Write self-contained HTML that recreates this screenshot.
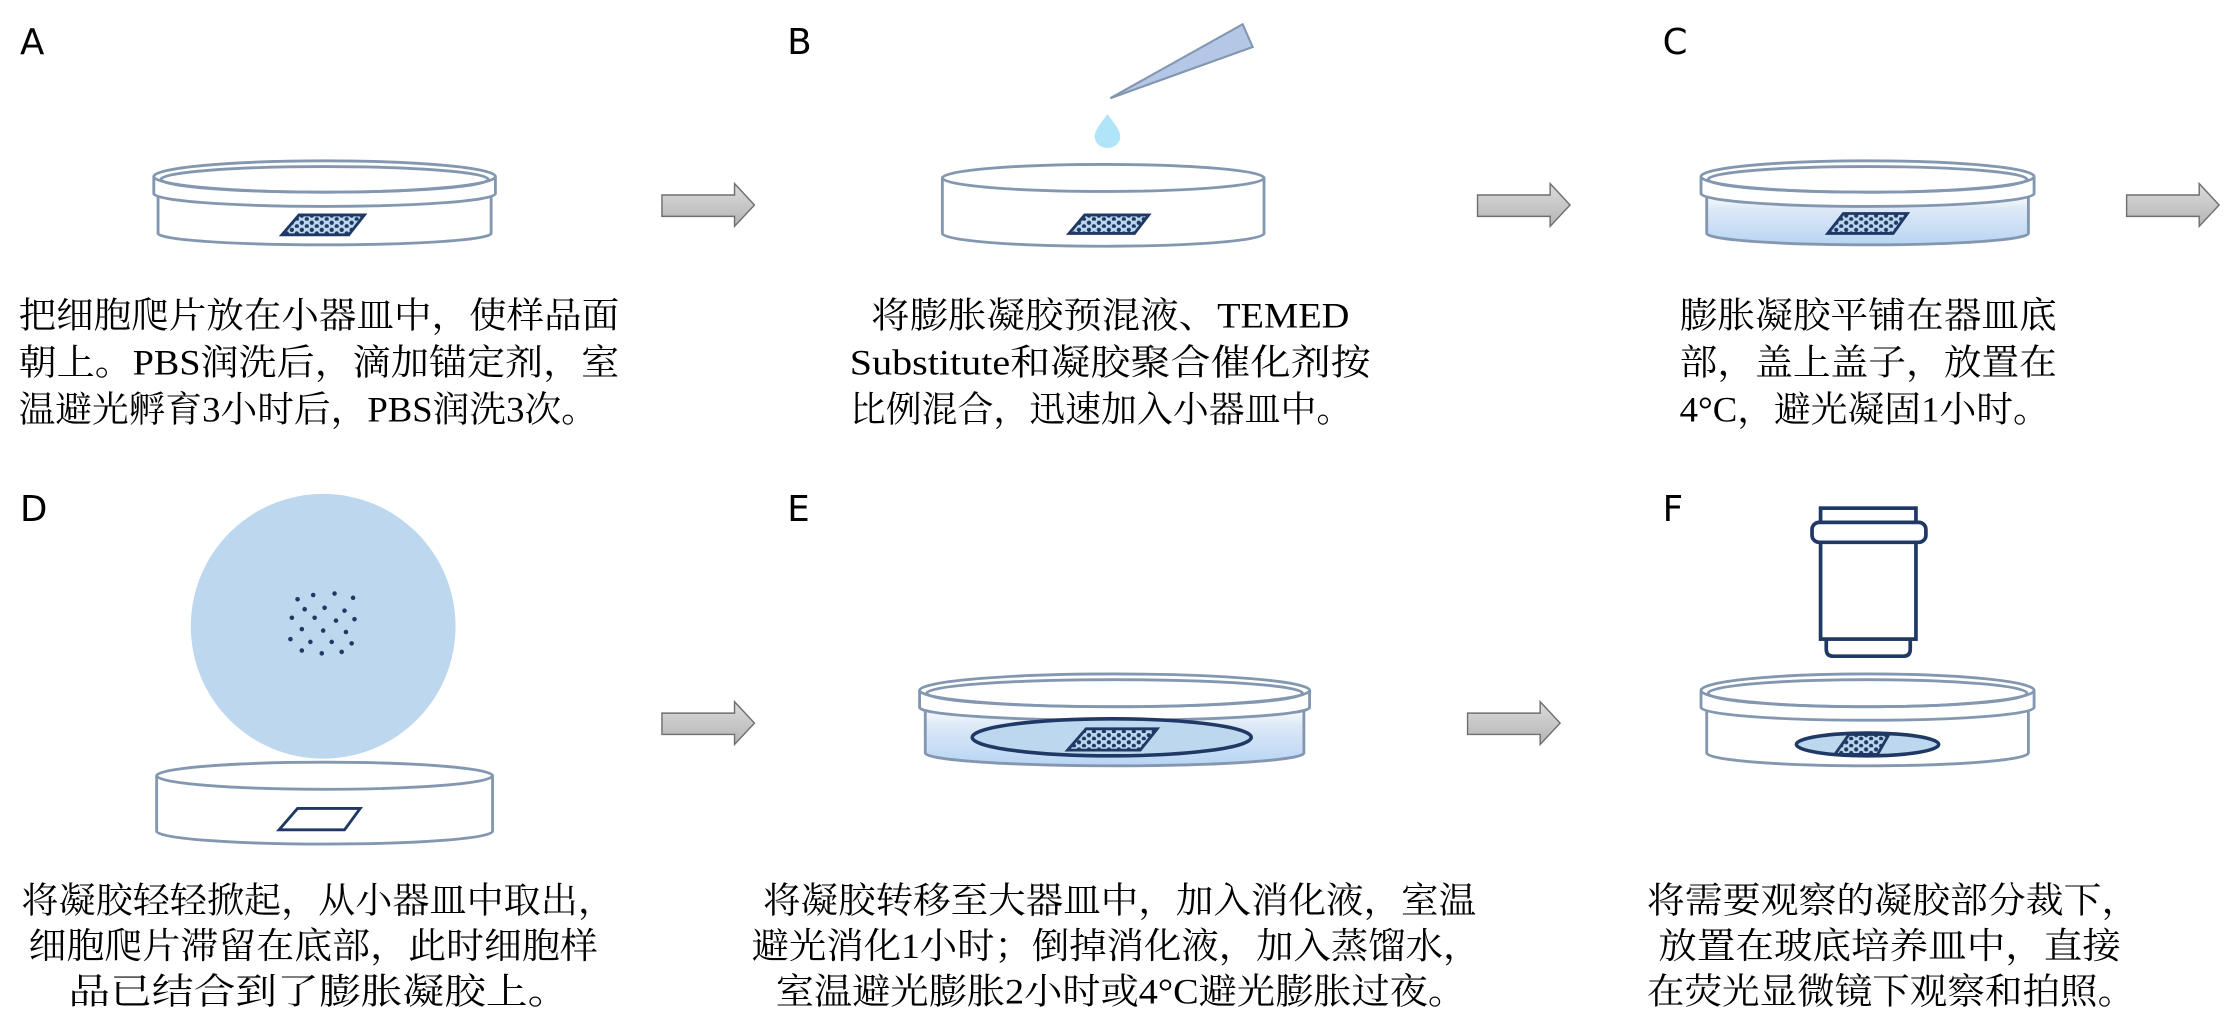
<!DOCTYPE html>
<html><head><meta charset="utf-8"><style>html,body{margin:0;padding:0;background:#fff}svg{display:block}</style></head>
<body>
<svg width="2232" height="1020" viewBox="0 0 1568 716.6" xmlns="http://www.w3.org/2000/svg">
<defs>
<pattern id="dots" width="7" height="5" patternUnits="userSpaceOnUse">
<rect width="7" height="5" fill="#bdd7ee"/><circle cx="2" cy="1.5" r="1.5" fill="#1f3864"/><circle cx="5.5" cy="4" r="1.5" fill="#1f3864"/></pattern>
<linearGradient id="blue" x1="0" y1="0" x2="0" y2="1"><stop offset="0" stop-color="#ffffff"/><stop offset="0.3" stop-color="#dde9f7"/><stop offset="1" stop-color="#b8d5f4"/></linearGradient>
<linearGradient id="arr" x1="0" y1="0" x2="0" y2="1"><stop offset="0" stop-color="#dcdcdc"/><stop offset="1" stop-color="#b4b4b4"/></linearGradient>
</defs>
<g font-family="DejaVu Sans, Liberation Sans, sans-serif" font-size="25" fill="#000">
<text x="14" y="38">A</text><text x="553" y="38">B</text><text x="1168" y="38">C</text>
<text x="14" y="366">D</text><text x="553" y="366">E</text><text x="1168" y="366">F</text>
</g>
<g fill="url(#arr)" stroke="#6f6f6f" stroke-width="1">
<polygon points="465,137 516,137 516,129 530,144 516,159 516,152 465,152"/>
<polygon points="1038,137 1089,137 1089,129 1103,144 1089,159 1089,152 1038,152"/>
<polygon points="1494,137 1545,137 1545,129 1559,144 1545,159 1545,152 1494,152"/>
<polygon points="465,501 516,501 516,493 530,508 516,523 516,516 465,516"/>
<polygon points="1031,501 1082,501 1082,493 1096,508 1082,523 1082,516 1031,516"/>
</g>
<path d="M1199,136 A113,9 0 0 0 1425,136 L1425,164 A113,8 0 0 1 1199,164 Z" fill="url(#blue)"/>
<path d="M650,497 A133,9 0 0 0 916,497 L916,529 A133,9 0 0 1 650,529 Z" fill="url(#blue)"/>
<g fill="none" stroke="#8497b0" stroke-width="2">
<path d="M111,138 L111,164 A117,8 0 0 0 345,164 L345,138"/>
<path d="M108,124 L108,136 A120,9 0 0 0 348,136 L348,124"/>
<ellipse cx="228" cy="124" rx="120" ry="11" fill="#fff"/>
<ellipse cx="228" cy="126" rx="115" ry="9"/>
<path d="M662,125 L662,164 A113,9 0 0 0 888,164 L888,125"/>
<ellipse cx="775" cy="125" rx="113" ry="9.5"/>
<path d="M1199,138 L1199,164 A113,8 0 0 0 1425,164 L1425,138"/>
<path d="M1195,124 L1195,136 A117,9 0 0 0 1429,136 L1429,124"/>
<ellipse cx="1312" cy="124" rx="117" ry="11" fill="#fff"/>
<ellipse cx="1312" cy="126" rx="112" ry="9"/>
<path d="M110,545 L110,584 A118,9 0 0 0 346,584 L346,545"/>
<ellipse cx="228" cy="545" rx="118" ry="9.5"/>
<path d="M650,499 L650,529 A133,9 0 0 0 916,529 L916,499"/>
<path d="M646,485 L646,497 A137,9 0 0 0 920,497 L920,485"/>
<ellipse cx="783" cy="485" rx="137" ry="11.5" fill="#fff"/>
<ellipse cx="783" cy="487" rx="132" ry="9.5"/>
<path d="M1199,499 L1199,529 A113,9 0 0 0 1425,529 L1425,499"/>
<path d="M1195,485 L1195,497 A117,9 0 0 0 1429,497 L1429,485"/>
<ellipse cx="1312" cy="485" rx="117" ry="11.5" fill="#fff"/>
<ellipse cx="1312" cy="487" rx="112" ry="9.5"/>
</g>
<polygon points="780,69 873,17 880,33" fill="#b4c7e7" stroke="#8497b0" stroke-width="1.5"/>
<path d="M778,80 C782,86 787,91 787,96 A9,8 0 0 1 769,96 C769,91 774,86 778,80 Z" fill="#b0e4f8"/>
<circle cx="227" cy="440" r="93" fill="#bdd7ee"/>
<g fill="#1f3864">
<circle cx="209" cy="421" r="1.6"/><circle cx="220" cy="418" r="1.6"/><circle cx="235" cy="417" r="1.6"/><circle cx="248" cy="420" r="1.6"/>
<circle cx="214" cy="428" r="1.6"/><circle cx="228" cy="427" r="1.6"/><circle cx="242" cy="429" r="1.6"/><circle cx="205" cy="434" r="1.6"/>
<circle cx="221" cy="434" r="1.6"/><circle cx="236" cy="436" r="1.6"/><circle cx="249" cy="435" r="1.6"/><circle cx="212" cy="442" r="1.6"/>
<circle cx="227" cy="443" r="1.6"/><circle cx="243" cy="444" r="1.6"/><circle cx="204" cy="449" r="1.6"/><circle cx="218" cy="451" r="1.6"/>
<circle cx="233" cy="451" r="1.6"/><circle cx="247" cy="452" r="1.6"/><circle cx="212" cy="457" r="1.6"/><circle cx="226" cy="459" r="1.6"/><circle cx="240" cy="458" r="1.6"/>
</g>
<g fill="url(#dots)" stroke="#1f3864" stroke-width="2">
<polygon points="210,151 256,151 245,165 198,165"/>
<polygon points="762,151 807,151 797,164 751,164"/>
<polygon points="1295,150 1340,150 1330,164 1284,164"/>
<polygon points="209,568 253,568 242,583 196,583" fill="#fff"/>
<ellipse cx="781" cy="518" rx="98" ry="13" fill="#bdd7ee" stroke-width="2.5"/>
<polygon points="763,512 813,512 801,527 750,527"/>
<ellipse cx="1312" cy="523" rx="50" ry="8" fill="#bdd7ee" stroke-width="2.5"/>
<polygon points="1299,516 1327,516 1319,530 1289,530"/>
</g>
<g fill="#fff" stroke="#1f3864" stroke-width="2.6">
<path d="M1283,449 L1283,456 Q1283,461 1288,461 L1337,461 Q1342,461 1342,456 L1342,449"/>
<rect x="1279" y="357" width="67" height="92"/>
<rect x="1273" y="367" width="80" height="14" rx="5"/>
</g>
<g font-family="Liberation Serif, 'Noto Serif CJK SC', serif" font-size="25" fill="#000">
<text x="13" y="230" textLength="422" lengthAdjust="spacingAndGlyphs">把细胞爬片放在小器皿中，使样品面</text>
<text x="13" y="263" textLength="422" lengthAdjust="spacingAndGlyphs">朝上。PBS润洗后，滴加锚定剂，室</text>
<text x="13" y="296" textLength="407" lengthAdjust="spacingAndGlyphs">温避光孵育3小时后，PBS润洗3次。</text>
<text x="612" y="230" textLength="336" lengthAdjust="spacingAndGlyphs">将膨胀凝胶预混液、TEMED</text>
<text x="597" y="263" textLength="366" lengthAdjust="spacingAndGlyphs">Substitute和凝胶聚合催化剂按</text>
<text x="597" y="296" textLength="353" lengthAdjust="spacingAndGlyphs">比例混合，迅速加入小器皿中。</text>
<text x="1180" y="230" textLength="265" lengthAdjust="spacingAndGlyphs">膨胀凝胶平铺在器皿底</text>
<text x="1180" y="263" textLength="265" lengthAdjust="spacingAndGlyphs">部，盖上盖子，放置在</text>
<text x="1180" y="296" textLength="260" lengthAdjust="spacingAndGlyphs">4°C，避光凝固1小时。</text>
<text x="15" y="641" textLength="417" lengthAdjust="spacingAndGlyphs">将凝胶轻轻掀起，从小器皿中取出，</text>
<text x="20" y="673" textLength="400" lengthAdjust="spacingAndGlyphs">细胞爬片滞留在底部，此时细胞样</text>
<text x="48" y="705" textLength="352" lengthAdjust="spacingAndGlyphs">品已结合到了膨胀凝胶上。</text>
<text x="536" y="641" textLength="501" lengthAdjust="spacingAndGlyphs">将凝胶转移至大器皿中，加入消化液，室温</text>
<text x="528" y="673" textLength="512" lengthAdjust="spacingAndGlyphs">避光消化1小时；倒掉消化液，加入蒸馏水，</text>
<text x="545" y="705" textLength="485" lengthAdjust="spacingAndGlyphs">室温避光膨胀2小时或4°C避光膨胀过夜。</text>
<text x="1157" y="641" textLength="346" lengthAdjust="spacingAndGlyphs">将需要观察的凝胶部分裁下，</text>
<text x="1165" y="673" textLength="325" lengthAdjust="spacingAndGlyphs">放置在玻底培养皿中，直接</text>
<text x="1157" y="705" textLength="343" lengthAdjust="spacingAndGlyphs">在荧光显微镜下观察和拍照。</text>
</g>
</svg>
</body></html>
